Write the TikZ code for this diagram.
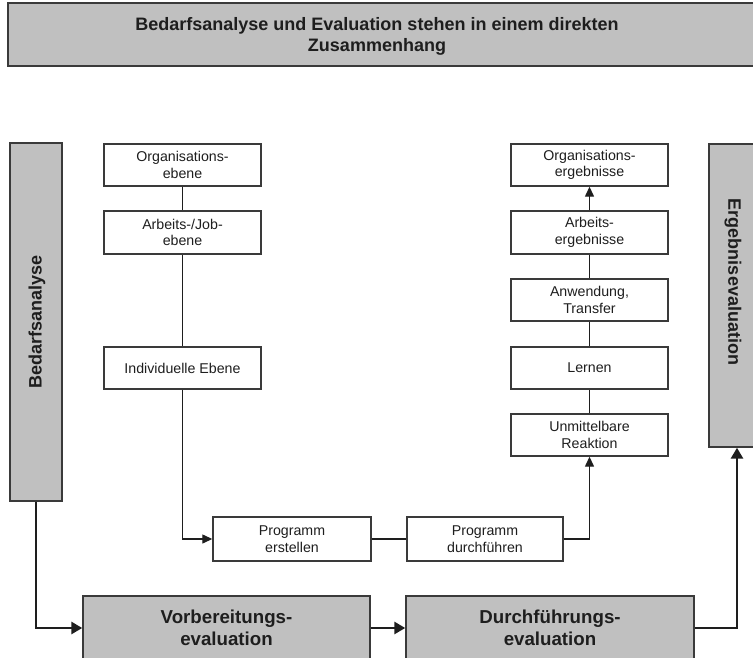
\documentclass[tikz,border=0pt]{standalone}
\usepackage{fontspec}
\setmainfont{Liberation Sans}
\usetikzlibrary{arrows.meta}
\definecolor{barfill}{HTML}{C0C0C0}
\definecolor{edge}{HTML}{3A3A3A}
\definecolor{ink}{HTML}{1E1E1E}
\tikzset{
  smallbox/.style={draw=edge, line width=1.4pt, fill=white, minimum width=157pt, minimum height=42pt,
    inner sep=0pt, align=center, text=ink, font=\fontsize{14.2}{16.5}\selectfont},
  graybar/.style={draw=edge, line width=1.4pt, fill=barfill, inner sep=0pt},
  bigbox/.style={draw=edge, line width=1.4pt, fill=barfill, minimum height=64pt, inner sep=0pt,
    align=center, text=ink, font=\fontsize{18.7}{21.5}\selectfont\bfseries},
  bartext/.style={text=ink, font=\fontsize{18}{20}\selectfont\bfseries, inner sep=0pt},
  thin/.style={draw=ink, line width=1.3pt},
  thinarrow/.style={thin, -{Triangle[length=10pt,width=9pt]}},
  thickarrow/.style={draw=ink, line width=2.8pt, -{Triangle[length=11pt,width=12pt]}}
}
\begin{document}
\begin{tikzpicture}[x=1pt,y=-1pt]
\useasboundingbox (0,0) rectangle (753,658);
% banner
\node[graybar, minimum width=752pt, minimum height=63pt] (banner) at (384,34.5) {};
\node[text=ink, align=center, inner sep=0pt, font=\fontsize{18}{21}\selectfont\bfseries] (bannertext) at (377,36.5)
  {Bedarfsanalyse und Evaluation stehen in einem direkten\\Zusammenhang};
% side bars
\node[graybar, minimum width=52pt, minimum height=358pt] (lb) at (36,322) {};
\node[bartext, rotate=90] (lbtext) at (37,322) {Bedarfsanalyse};
\node[graybar, minimum width=56pt, minimum height=303pt] (rb) at (737,295.5) {};
\node[bartext, rotate=-90] (rbtext) at (733,282) {Ergebnisevaluation};
% left column
\node[smallbox] (org) at (182.5,165) {Organisations-\\ebene};
\node[smallbox, minimum height=43pt] (arb) at (182.5,232.5) {Arbeits-/Job-\\ebene};
\node[smallbox] (ind) at (182.5,368) {Individuelle Ebene};
% right column
\node[smallbox] (orge) at (589.5,165) {Organisations-\\ergebnisse};
\node[smallbox, minimum height=43pt] (arbe) at (589.5,232.5) {Arbeits-\\ergebnisse};
\node[smallbox] (anw) at (589.5,300) {Anwendung,\\Transfer};
\node[smallbox] (lern) at (589.5,368) {Lernen};
\node[smallbox] (reak) at (589.5,435) {Unmittelbare\\Reaktion};
% program boxes
\node[smallbox, minimum width=158pt, minimum height=44pt] (pe) at (292,539) {Programm\\erstellen};
\node[smallbox, minimum width=156pt, minimum height=44pt] (pd) at (485,539) {Programm\\durchführen};
% bottom boxes
\node[bigbox, minimum width=287pt] (vb) at (226.5,628) {Vorbereitungs-\\evaluation};
\node[bigbox, minimum width=288pt] (dfe) at (550,628) {Durchführungs-\\evaluation};
% connectors
\draw[thin] (org) -- (arb);
\draw[thin] (arb) -- (ind);
\draw[thinarrow] (ind.south) |- (pe.west);
\draw[thin] (pe) -- (pd);
\draw[thinarrow] (pd.east) -| (reak.south);
\draw[thin] (reak) -- (lern);
\draw[thin] (lern) -- (anw);
\draw[thin] (anw) -- (arbe);
\draw[thinarrow] (arbe) -- (orge);
\draw[thickarrow] (lb.south) |- (vb.west);
\draw[thickarrow] (vb) -- (dfe);
\draw[thickarrow] (dfe.east) -| (rb.south);
\end{tikzpicture}
\end{document}
